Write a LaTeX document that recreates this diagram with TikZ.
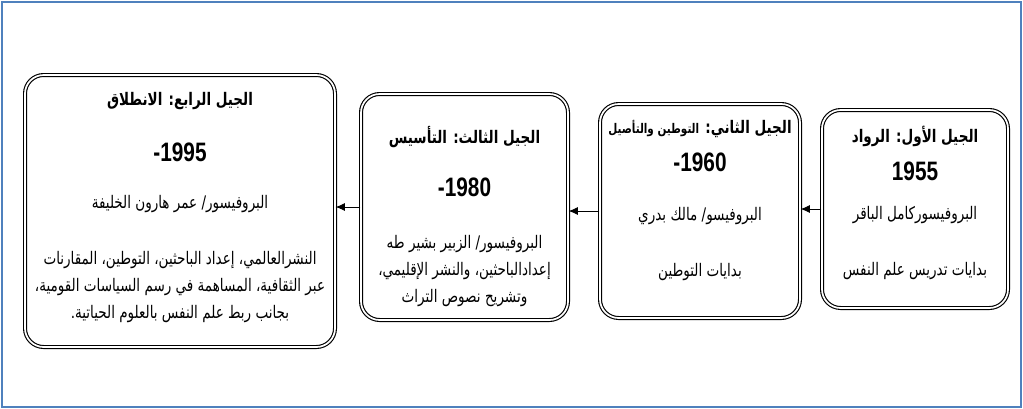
\documentclass[tikz,border=0pt]{standalone}
\usepackage{fontspec}
\usetikzlibrary{arrows.meta}
\TeXXeTstate=1
\newfontfamily\arabicfont[Script=Arabic,FakeStretch=0.78]{DejaVu Sans}
\newfontfamily\yearfont[FakeStretch=0.78]{Liberation Sans}
\definecolor{frameblue}{RGB}{79,129,189}
\tikzstyle{gen_box}=[draw=black,double,double distance=1.3pt,line width=0.85pt,rounded corners=14pt,inner sep=0pt]
\tikzstyle{flow}=[-{Latex[length=7pt,width=6pt]},draw=black,line width=0.6pt]
\tikzstyle{head_text}=[font=\arabicfont\bfseries\fontsize{13}{15}\selectfont,inner sep=0pt]
\tikzstyle{year_text}=[font=\yearfont\bfseries\fontsize{20}{22}\selectfont,inner sep=0pt]
\tikzstyle{body_text}=[font=\arabicfont\fontsize{13}{20.5}\selectfont,inner sep=0pt,align=center]

\begin{document}
\begin{tikzpicture}[x=0.75pt,y=-0.75pt]
	\useasboundingbox (0,0) rectangle (1023,408);
	\draw [frameblue,line width=1.5pt] (2,1.5) rectangle (1021,406.5);
	% generation boxes
	\node [style={gen_box},minimum width=232.5pt,minimum height=204pt] (g4) at (180,211) {};
	\node [style={gen_box},minimum width=155.25pt,minimum height=169.5pt] (g3) at (464.5,207) {};
	\node [style={gen_box},minimum width=150pt,minimum height=160.5pt] (g2) at (700,211) {};
	\node [style={gen_box},minimum width=139.5pt,minimum height=148.5pt] (g1) at (915,209) {};
	% first generation
	\node [style={head_text}] (g1head) at (915,136) {\beginR الجيل الأول: الرواد\endR};
	\node [style={year_text}] (g1year) at (915,171) {1955};
	\node [style={body_text}] (g1name) at (915,215) {\beginR البروفيسوركامل الباقر\endR};
	\node [style={body_text}] (g1work) at (915,271) {\beginR بدايات تدريس علم النفس\endR};
	% second generation
	\node [style={head_text}] (g2head) at (700,129) {\beginR الجيل الثاني: {\fontsize{10}{12}\selectfont التوطين والتأصيل}\endR};
	\node [style={year_text}] (g2year) at (700,162) {-1960};
	\node [style={body_text}] (g2name) at (700,216) {\beginR البروفيسو/ مالك بدري\endR};
	\node [style={body_text}] (g2work) at (700,272) {\beginR بدايات التوطين\endR};
	% third generation
	\node [style={head_text}] (g3head) at (464.5,137) {\beginR الجيل الثالث: التأسيس\endR};
	\node [style={year_text}] (g3year) at (464.5,187) {-1980};
	\node [style={body_text}] (g3work) at (464.5,271) {\beginR البروفيسور/ الزبير بشير طه\endR\\
		\beginR إعدادالباحثين، والنشر الإقليمي،\endR\\
		\beginR وتشريح نصوص التراث\endR};
	% fourth generation
	\node [style={head_text}] (g4head) at (180,101) {\beginR الجيل الرابع: الانطلاق\endR};
	\node [style={year_text}] (g4year) at (180,152) {-1995};
	\node [style={body_text}] (g4name) at (180,204) {\beginR البروفيسور/ عمر هارون الخليفة\endR};
	\node [style={body_text}] (g4work) at (180,287) {\beginR النشرالعالمي، إعداد الباحثين، التوطين، المقارنات\endR\\
		\beginR عبر الثقافية، المساهمة في رسم السياسات القومية،\endR\\
		\beginR بجانب ربط علم النفس بالعلوم الحياتية.\endR};
	% arrows
	\draw [style=flow] (g1.west) to (g1.west -| g2.east);
	\draw [style=flow] (g2.west) to (g2.west -| g3.east);
	\draw [style=flow] (g3.west) to (g3.west -| g4.east);
\end{tikzpicture}
\end{document}
